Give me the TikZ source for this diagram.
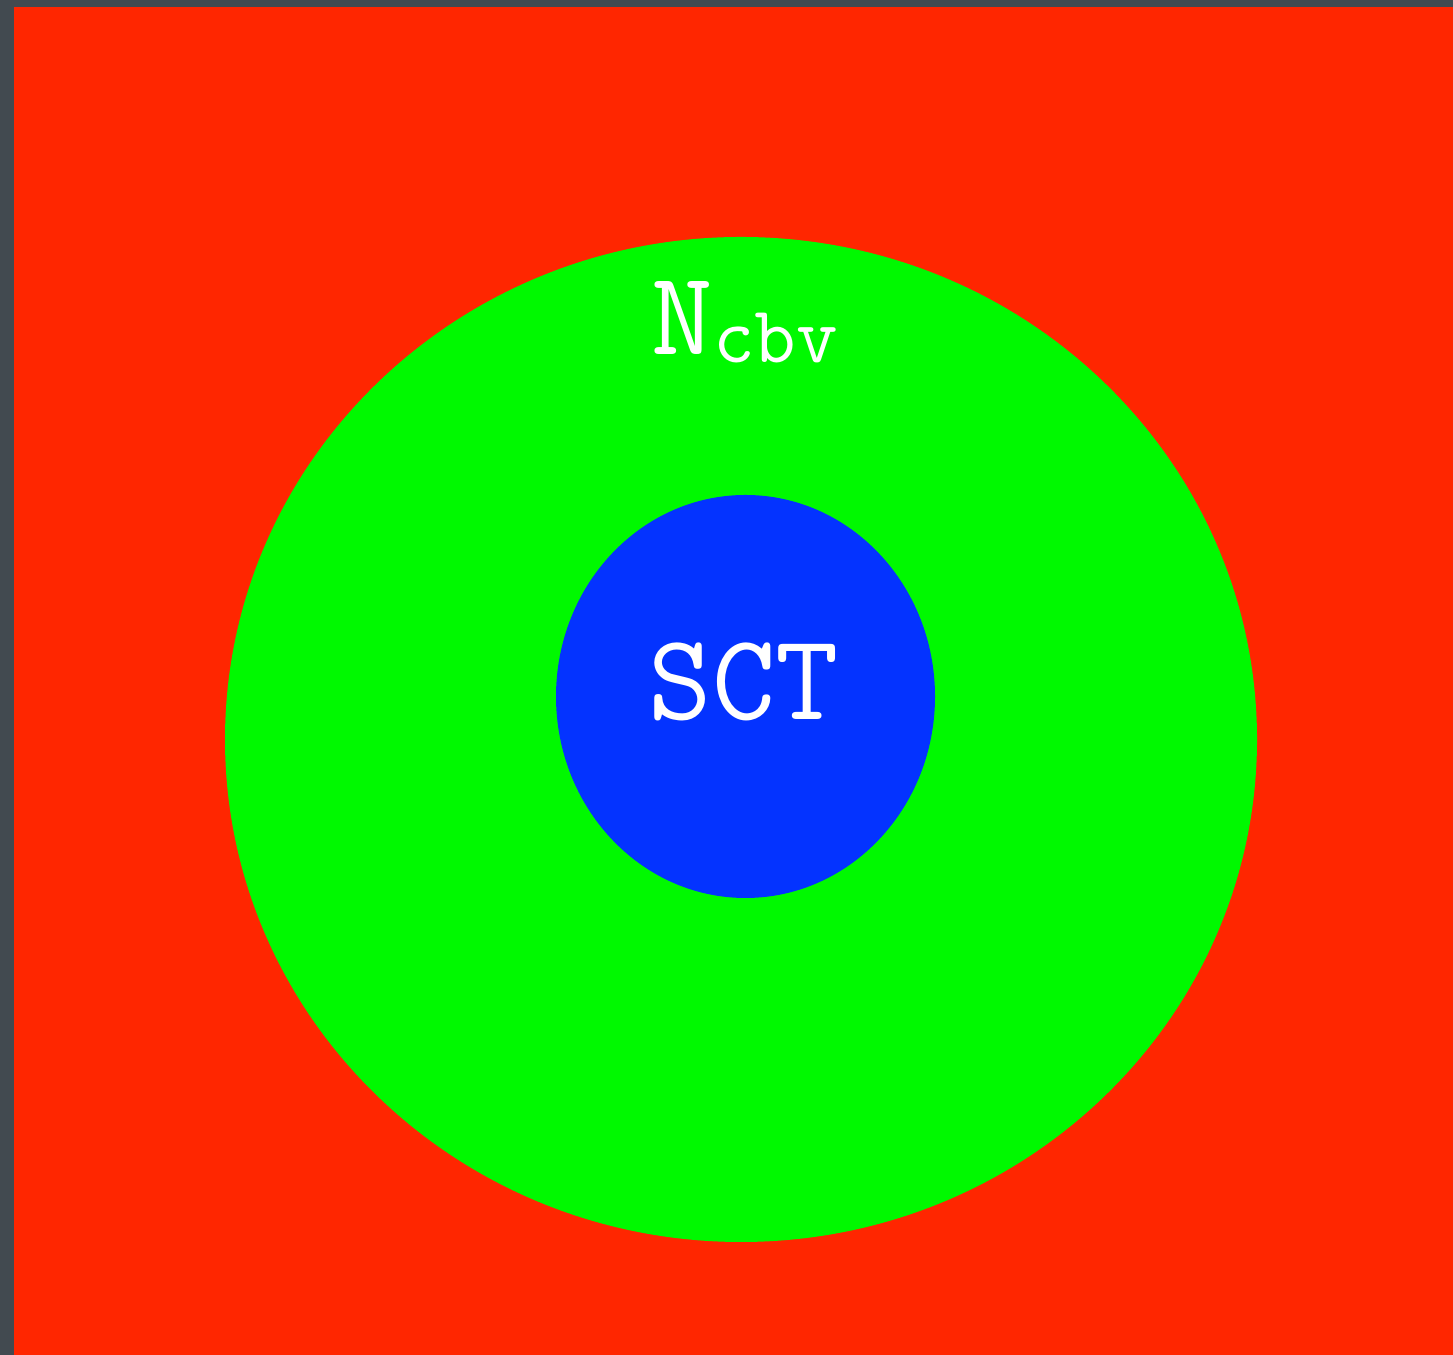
\documentclass[tikz,border=0pt]{standalone}
\usepackage{tikz}
\usetikzlibrary{positioning,shapes.geometric}
\definecolor{frame}{RGB}{66,74,80}
\definecolor{outerred}{RGB}{255,38,0}
\definecolor{midgreen}{RGB}{0,249,0}
\definecolor{coreblue}{RGB}{4,51,255}
\tikzset{
  zone/.style={ellipse, inner sep=0pt, draw=none},
  label/.style={text=white, font=\ttfamily, inner sep=0pt, anchor=base},
}
\begin{document}
\begin{tikzpicture}
  % frame and red region
  \fill[frame] (0,0) rectangle (14.53,13.55);
  \fill[outerred] (0.14,0) rectangle (14.53,13.48);
  % nested regions
  \node[zone, fill=midgreen, minimum width=10.32cm, minimum height=10.05cm] (ncbv) at (7.41,6.155) {};
  \node[zone, fill=coreblue, minimum width=3.79cm, minimum height=4.03cm] (sct) at (7.455,6.585) {};
  % labels
  \node[label] (ncbvlabel) at (7.45,10.0)
    {\fontsize{34}{34}\selectfont N\raisebox{-0.8mm}{\fontsize{23}{23}\selectfont cbv}};
  \node[label] (sctlabel) at (7.44,6.35) {\fontsize{35}{35}\selectfont SCT};
\end{tikzpicture}
\end{document}
